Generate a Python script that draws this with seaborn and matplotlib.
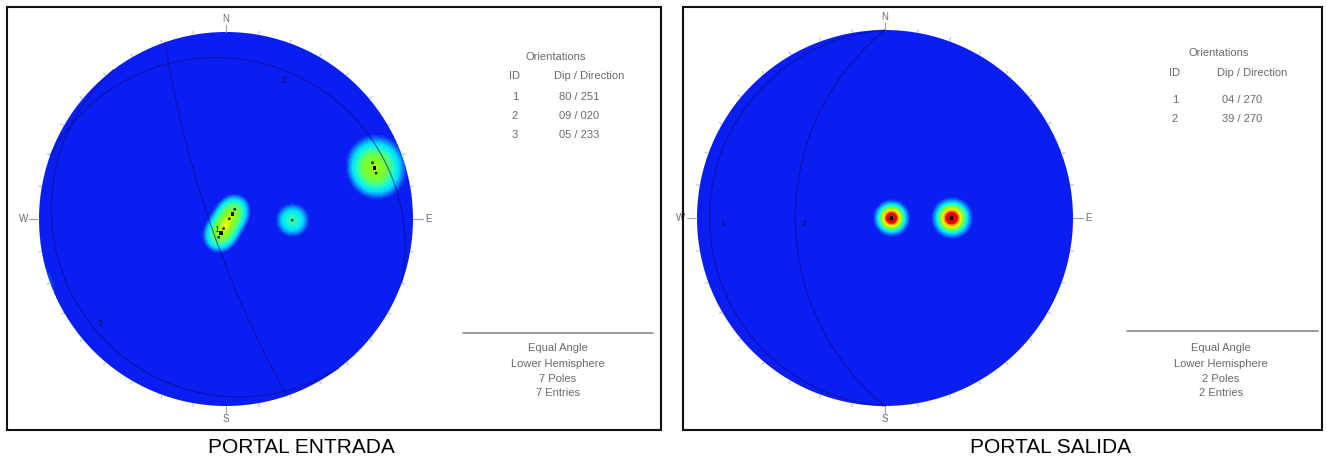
import numpy as np
import pandas as pd
import matplotlib
matplotlib.use("Agg")
import matplotlib.pyplot as plt
from matplotlib.colors import LinearSegmentedColormap
from matplotlib.patches import Circle, Rectangle
from matplotlib.lines import Line2D
import seaborn as sns

# ---------------------------------------------------------------- data
# Portal Entrada: mean planes (dip / dip direction) and measured poles
entrada_ids = [1, 2, 3]
entrada_dip = [80, 9, 5]
entrada_dipdir = [251, 20, 233]
entrada_pole_trend = [69, 73, 91, 202, 194, 86, 42]
entrada_pole_plunge = [10, 10, 51, 78, 84, 88, 82]

# Portal Salida
salida_ids = [1, 2]
salida_dip = [4, 39]
salida_dipdir = [270, 270]
salida_pole_trend = [90, 90]
salida_pole_plunge = [86, 51]

titles = ["PORTAL ENTRADA", "PORTAL SALIDA"]
cardinals = ["N", "E", "S", "W"]

# ---------------------------------------------------------------- style
sns.set_theme(style="white")
plt.rcParams["font.family"] = ["Liberation Sans", "DejaVu Sans"]

W, H = 1327, 457
fig = plt.figure(figsize=(W / 100, H / 100), dpi=100)
fig.patch.set_facecolor("white")

density_cmap = LinearSegmentedColormap.from_list(
    "dips",
    [(0.00, "#0b1ef2"), (0.12, "#0b1ef2"), (0.22, "#0a8cff"),
     (0.32, "#00e6ff"), (0.42, "#30ffb0"), (0.53, "#7dff2a"),
     (0.66, "#eaff00"), (0.76, "#ffa000"), (0.84, "#f00000"),
     (1.00, "#d80000")])

TXT = "#6a6a6a"
GC_COLOR = "#0a0a80"


def fx(px):
    return px / W


def fy(py):
    return 1 - py / H


# ---------------------------------------------------------------- stereonet helpers
def project(trend, plunge):
    """Equal-angle, lower-hemisphere projection of a line."""
    t = np.radians(np.asarray(trend, float))
    p = np.radians(np.asarray(plunge, float))
    r = np.tan((np.pi / 2 - p) / 2)
    return r * np.sin(t), r * np.cos(t)


def great_circle(dip, dipdir, n=241):
    beta = np.linspace(dipdir - 90, dipdir + 90, n)
    app = np.degrees(np.arctan(np.tan(np.radians(dip)) *
                               np.cos(np.radians(beta - dipdir))))
    return project(beta, app)


def pole_density(trends, plunges, X, Y, kappa=110.0):
    r = np.hypot(X, Y)
    th = 2 * np.arctan(r)
    az = np.arctan2(X, Y)
    v = np.stack([np.sin(th) * np.sin(az), np.sin(th) * np.cos(az),
                  np.cos(th)], axis=-1)
    D = np.zeros_like(X)
    for t, p in zip(trends, plunges):
        t, p = np.radians(t), np.radians(p)
        c = np.array([np.cos(p) * np.sin(t), np.cos(p) * np.cos(t), np.sin(p)])
        D += np.exp(kappa * (np.abs(v @ c) - 1.0))
    return D


def make_axes(cx, cy, R, L=1.16):
    w = 2 * L * R
    ax = fig.add_axes([fx(cx - L * R), (H - cy - L * R) / H, w / W, w / H])
    ax.set_xlim(-L, L)
    ax.set_ylim(-L, L)
    ax.set_aspect("equal")
    ax.axis("off")
    return ax


def draw_stereonet(ax, ids, dips, dipdirs, ptrend, pplunge, knots_d, knots_u,
                   label_off=(0.03, -0.03)):
    g = np.linspace(-1.03, 1.03, 520)
    X, Y = np.meshgrid(g, g)
    D = pole_density(ptrend, pplunge, X, Y)
    U = np.interp(D, knots_d, knots_u)
    cs = ax.contourf(X, Y, U, levels=np.linspace(0, 1, 41),
                     cmap=density_cmap, vmin=0, vmax=1)
    clip = Circle((0, 0), 1.0, transform=ax.transData,
                  facecolor="none", edgecolor="none")
    ax.add_patch(clip)
    cs.set_clip_path(clip)

    # ticks every 10 degrees around the primitive
    for az in range(0, 360, 10):
        a = np.radians(az)
        if az in (90, 270):
            r0, r1, c = 1.0, 1.055, "#9aa0b8"
        elif az % 90 == 0:
            r0, r1, c = 1.0, 1.035, "#9aa0b8"
        else:
            r0, r1, c = 1.003, 1.018, "#b4bce0"
        ax.add_line(Line2D([r0 * np.sin(a), r1 * np.sin(a)],
                           [r0 * np.cos(a), r1 * np.cos(a)],
                           color=c, lw=0.8))
    for lab, az in zip(cardinals, [0, 90, 180, 270]):
        a = np.radians(az)
        rr = 1.085 if az in (90, 270) else 1.07
        ax.text(rr * np.sin(a), rr * np.cos(a), lab, ha="center",
                va="center", fontsize=7, color=TXT)

    # mean planes
    for i, d, dd in zip(ids, dips, dipdirs):
        gx, gy = great_circle(d, dd)
        sns.lineplot(x=gx, y=gy, sort=False, estimator=None, ax=ax,
                     color=GC_COLOR, lw=0.9, alpha=0.55)
        ax_, ay_ = project(dd, d)
        ax.text(ax_ * 0.96 + label_off[0], ay_ * 0.96 + label_off[1], str(i),
                fontsize=6.5, color="#0a0a40", ha="center", va="center",
                alpha=0.8)

    # poles
    px, py = project(ptrend, pplunge)
    sns.scatterplot(data=pd.DataFrame({"x": px, "y": py}), x="x", y="y",
                    ax=ax, s=4, color="#0d2a2a", edgecolor="none",
                    legend=False)
    mx, my = project(np.array(dipdirs) + 180, 90 - np.array(dips))
    sns.scatterplot(x=mx, y=my, ax=ax, s=7, color="black", marker="s",
                    edgecolor="none", legend=False)
    ax.set_xlim(-1.16, 1.16)
    ax.set_ylim(-1.16, 1.16)
    ax.set_xlabel("")
    ax.set_ylabel("")


def legend_block(x_id, x_val, x_mid, y_title, y_head, rows_y, ids, dips,
                 dipdirs, line_x, line_y, foot_y, n_poles):
    fs = 8
    fig.text(fx(x_mid - 2), fy(y_title), "Orientations", ha="center",
             va="center", fontsize=fs, color=TXT)
    fig.text(fx(x_id), fy(y_head), "ID", ha="center", va="center",
             fontsize=fs, color=TXT)
    fig.text(fx(x_val + 10), fy(y_head), "Dip / Direction", ha="center",
             va="center", fontsize=fs, color=TXT)
    for i, d, dd, yy in zip(ids, dips, dipdirs, rows_y):
        fig.text(fx(x_id), fy(yy), str(i), ha="center", va="center",
                 fontsize=fs, color=TXT)
        fig.text(fx(x_val), fy(yy), f"{d:02d} / {dd:03d}", ha="center",
                 va="center", fontsize=fs, color=TXT)
    fig.add_artist(Line2D([fx(line_x[0]), fx(line_x[1])],
                          [fy(line_y), fy(line_y)], color="#8a8a8a", lw=1.2,
                          transform=fig.transFigure))
    foot = ["Equal Angle", "Lower Hemisphere", f"{n_poles} Poles",
            f"{n_poles} Entries"]
    for t, yy in zip(foot, foot_y):
        fig.text(fx(x_mid), fy(yy), t, ha="center", va="center",
                 fontsize=fs, color=TXT)


# ---------------------------------------------------------------- frames
for x0, x1 in [(7, 661), (683, 1322)]:
    fig.add_artist(Rectangle((fx(x0), fy(430)), fx(x1 - x0), (430 - 7) / H,
                             transform=fig.transFigure, fill=False,
                             edgecolor="#111111", lw=1.5))

# ---------------------------------------------------------------- panels
ax1 = make_axes(226, 219, 187)
draw_stereonet(ax1, entrada_ids, entrada_dip, entrada_dipdir,
               entrada_pole_trend, entrada_pole_plunge,
               knots_d=[0, 0.3, 0.6, 1.0, 1.3, 1.88, 2.0, 2.3, 3.5],
               knots_u=[0, 0.14, 0.3, 0.41, 0.49, 0.56, 0.64, 0.72, 1.0])
legend_block(515, 579, 558, 57, 76, [97, 116, 135], entrada_ids,
             entrada_dip, entrada_dipdir, (463, 653), 333,
             [348, 364, 379, 393], len(entrada_pole_trend))

ax2 = make_axes(885, 218, 188)
draw_stereonet(ax2, salida_ids, salida_dip, salida_dipdir,
               salida_pole_trend, salida_pole_plunge,
               knots_d=[0, 1.05], knots_u=[0, 1.0])
legend_block(1175, 1242, 1221, 53, 73, [100, 119], salida_ids,
             salida_dip, salida_dipdir, (1127, 1318), 331,
             [348, 364, 379, 393], len(salida_pole_trend))

# captions
fig.text(fx(301), fy(453), titles[0], ha="center", va="baseline",
         fontsize=15, color="black")
fig.text(fx(1050), fy(453), titles[1], ha="center", va="baseline",
         fontsize=15, color="black")

fig.savefig("out.png", dpi=100, facecolor="white")
